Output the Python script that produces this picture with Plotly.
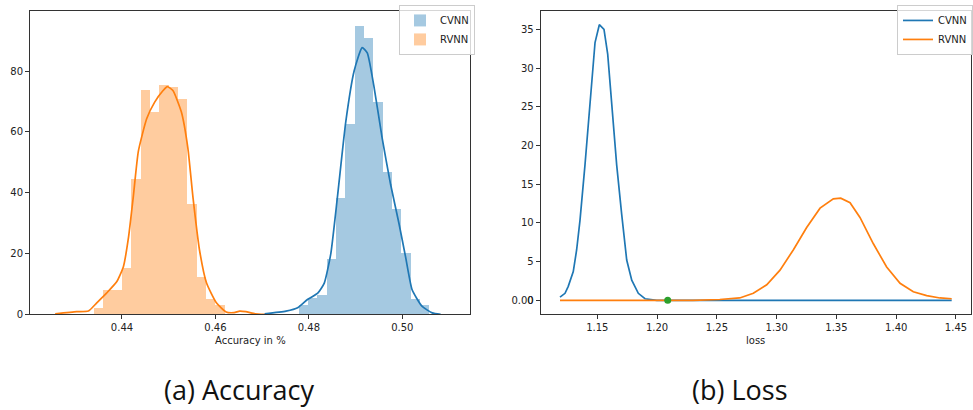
import numpy as np
import plotly.graph_objects as go

# ---------------- data ----------------
series_names = ["CVNN", "RVNN"]

# Accuracy histograms (density), bin starts and width
cvnn_acc_bin_start = 0.4778
rvnn_acc_bin_start = 0.4340
acc_bin_width = 0.0020
cvnn_acc_hist = [3.2, 5.4, 6.3, 18.2, 38.4, 62.8, 94.9, 90.9, 69.8, 46.8, 34.6, 20.3, 5.1, 3.2]
rvnn_acc_hist = [2.2, 8.1, 8.1, 15.2, 44.6, 73.8, 66.6, 75.6, 74.7, 70.9, 36.5, 12.2, 5.2, 3.2]

# Accuracy KDE curves
cvnn_acc_kde_x = [0.4705, 0.4751, 0.4776, 0.4797, 0.4819, 0.4833, 0.4847, 0.4861, 0.4879,
                  0.4897, 0.4914, 0.4925, 0.4939, 0.4957, 0.4975, 0.4993, 0.5007, 0.5021,
                  0.5042, 0.5064, 0.5082]
cvnn_acc_kde_y = [0.2, 1.1, 2.2, 4.9, 7.0, 10.3, 20.0, 38.4, 63.3,
                  80.1, 87.7, 86.0, 75.2, 57.9, 42.7, 29.8, 18.9, 8.1,
                  2.7, 0.5, 0.0]
rvnn_acc_kde_x = [0.4257, 0.4303, 0.4328, 0.4346, 0.4367, 0.4389, 0.4403, 0.4414, 0.4424,
                  0.4435, 0.4453, 0.4470, 0.4488, 0.4497, 0.4509, 0.4527, 0.4541, 0.4552,
                  0.4566, 0.4581, 0.4602, 0.4623, 0.4640, 0.4652, 0.4665, 0.4685, 0.4705]
rvnn_acc_kde_y = [0.2, 0.9, 1.1, 3.8, 7.0, 10.8, 15.7, 25.4, 38.4,
                  53.6, 64.4, 69.8, 73.6, 74.9, 73.6, 66.6, 54.7, 38.4,
                  21.1, 10.3, 3.8, 0.8, 0.6, 1.1, 0.9, 0.2, 0.0]

# Loss KDE curves
cvnn_loss_x = [1.1188, 1.1230, 1.1257, 1.1299, 1.1327, 1.1355, 1.1397, 1.1439, 1.1481,
               1.1517, 1.1556, 1.1587, 1.1620, 1.1662, 1.1704, 1.1746, 1.1788, 1.1843,
               1.1899, 1.1997, 1.2500, 1.3000, 1.3500, 1.4000, 1.4464]
cvnn_loss_y = [0.4, 0.9, 1.8, 3.7, 6.5, 10.3, 17.5, 25.6, 33.3,
               35.6, 35.0, 31.8, 25.2, 17.5, 11.1, 5.2, 2.6, 0.9,
               0.2, 0.0, 0.0, 0.0, 0.0, 0.0, 0.0]
rvnn_loss_x = [1.1188, 1.1600, 1.2000, 1.2300, 1.2524, 1.2691, 1.2805, 1.2917, 1.3028,
               1.3139, 1.3251, 1.3363, 1.3474, 1.3536, 1.3614, 1.3697, 1.3809, 1.3920,
               1.4032, 1.4143, 1.4255, 1.4366, 1.4464]
rvnn_loss_y = [0.0, 0.0, 0.0, 0.0, 0.1, 0.3, 0.9, 2.0, 3.9,
               6.5, 9.4, 11.9, 13.1, 13.2, 12.6, 10.7, 7.3, 4.3,
               2.2, 1.1, 0.6, 0.3, 0.2]
marker_point = [1.2089, 0.0]

acc_x_ticks = [0.44, 0.46, 0.48, 0.50]
acc_y_ticks = [0, 20, 40, 60, 80]
loss_x_ticks = [1.15, 1.20, 1.25, 1.30, 1.35, 1.40, 1.45]
loss_y_ticks = [0, 5, 10, 15, 20, 25, 30, 35]
axis_titles = ["Accuracy in %", "loss"]
captions = ["(a) Accuracy", "(b) Loss"]

# ---------------- figure ----------------
BLUE = "#1f77b4"
ORANGE = "#ff7f0e"
GREEN = "#2ca02c"
BLUE_FILL = "rgba(31,119,180,0.4)"
ORANGE_FILL = "rgba(255,127,14,0.4)"

W, H = 973, 410
def px_x(a, b):
    return [a / W, b / W]
def px_y(top, bottom):
    return [(H - bottom) / H, (H - top) / H]

fig = go.Figure()

def centers(start, n, w):
    return start + w * (np.arange(n) + 0.5)

fig.add_trace(go.Bar(x=centers(cvnn_acc_bin_start, len(cvnn_acc_hist), acc_bin_width),
                     y=cvnn_acc_hist, width=acc_bin_width, name=series_names[0],
                     marker=dict(color=BLUE_FILL, line=dict(width=0)),
                     xaxis="x", yaxis="y", legend="legend"))
fig.add_trace(go.Scatter(x=cvnn_acc_kde_x, y=cvnn_acc_kde_y, mode="lines",
                         line=dict(color=BLUE, width=1.7, shape="spline", smoothing=0.5),
                         showlegend=False, xaxis="x", yaxis="y"))
fig.add_trace(go.Bar(x=centers(rvnn_acc_bin_start, len(rvnn_acc_hist), acc_bin_width),
                     y=rvnn_acc_hist, width=acc_bin_width, name=series_names[1],
                     marker=dict(color=ORANGE_FILL, line=dict(width=0)),
                     xaxis="x", yaxis="y", legend="legend"))
fig.add_trace(go.Scatter(x=rvnn_acc_kde_x, y=rvnn_acc_kde_y, mode="lines",
                         line=dict(color=ORANGE, width=1.7, shape="spline", smoothing=0.5),
                         showlegend=False, xaxis="x", yaxis="y"))

fig.add_trace(go.Scatter(x=cvnn_loss_x, y=cvnn_loss_y, mode="lines", name=series_names[0],
                         line=dict(color=BLUE, width=1.7),
                         xaxis="x2", yaxis="y2", legend="legend2"))
fig.add_trace(go.Scatter(x=rvnn_loss_x, y=rvnn_loss_y, mode="lines", name=series_names[1],
                         line=dict(color=ORANGE, width=1.7),
                         xaxis="x2", yaxis="y2", legend="legend2"))
fig.add_trace(go.Scatter(x=[marker_point[0]], y=[marker_point[1]], mode="markers",
                         marker=dict(color=GREEN, size=7), showlegend=False,
                         xaxis="x2", yaxis="y2"))
# invisible trace to activate the twin axis
fig.add_trace(go.Scatter(x=[marker_point[0]], y=[marker_point[1]], mode="markers",
                         marker=dict(opacity=0), showlegend=False, hoverinfo="skip",
                         xaxis="x2", yaxis="y3"))

axis_common = dict(showgrid=False, zeroline=False, showline=True, linecolor="#333",
                   linewidth=1, mirror=True, ticks="outside", ticklen=4, tickwidth=1,
                   tickcolor="#333",
                   tickfont=dict(family="DejaVu Sans", size=10, color="#222"))
title_font = dict(family="DejaVu Sans", size=10, color="#222")
caption_font = dict(family="Open Sans", size=27, color="#111")

fig.update_layout(
    width=W, height=H,
    margin=dict(l=0, r=0, t=0, b=0),
    paper_bgcolor="white", plot_bgcolor="white",
    barmode="overlay", bargap=0,
    xaxis=dict(domain=px_x(30, 470), range=[0.42031, 0.51449], tickvals=acc_x_ticks,
               ticktext=["%.2f" % v for v in acc_x_ticks], anchor="y", **axis_common),
    yaxis=dict(domain=px_y(11, 318.3), range=[0, 99.8], tickvals=acc_y_ticks, anchor="x",
               **axis_common),
    xaxis2=dict(domain=px_x(540.7, 970.7), range=[1.10266, 1.4623], tickvals=loss_x_ticks,
                ticktext=["%.2f" % v for v in loss_x_ticks], anchor="y2", **axis_common),
    yaxis2=dict(domain=px_y(11, 318.3), range=[-1.825, 37.39], tickvals=loss_y_ticks,
                anchor="x2", **axis_common),
    yaxis3=dict(overlaying="y2", anchor="x2", side="left", range=[-1.825, 37.39],
                tickvals=[0], ticktext=["0.00"], showgrid=False, zeroline=False,
                showline=False, ticks="outside", ticklen=4, tickcolor="#333",
                tickfont=dict(family="DejaVu Sans", size=10, color="#222")),
    legend=dict(x=475 / W, y=(H - 5) / H, xanchor="right", yanchor="top",
                bgcolor="rgba(255,255,255,0.8)", bordercolor="#ccc", borderwidth=1,
                font=dict(family="DejaVu Sans", size=10, color="#222"),
                tracegroupgap=0),
    legend2=dict(x=1.0, y=(H - 5) / H, xanchor="right", yanchor="top",
                 bgcolor="rgba(255,255,255,0.8)", bordercolor="#ccc", borderwidth=1,
                 font=dict(family="DejaVu Sans", size=10, color="#222"),
                 tracegroupgap=0),
    annotations=[
        dict(text=axis_titles[0], x=250 / W, y=(H - 345) / H, xref="paper", yref="paper",
             showarrow=False, xanchor="center", yanchor="middle", font=title_font),
        dict(text=axis_titles[1], x=755.7 / W, y=(H - 345) / H, xref="paper", yref="paper",
             showarrow=False, xanchor="center", yanchor="middle", font=title_font),
        dict(text=captions[0], x=239 / W, y=(H - 394) / H, xref="paper", yref="paper",
             showarrow=False, xanchor="center", yanchor="middle", font=caption_font),
        dict(text=captions[1], x=740 / W, y=(H - 394) / H, xref="paper", yref="paper",
             showarrow=False, xanchor="center", yanchor="middle", font=caption_font),
    ],
)

fig.write_html("out.html", config={"displayModeBar": False},
               post_script="document.body.style.margin='0';document.body.style.overflow='hidden';")
